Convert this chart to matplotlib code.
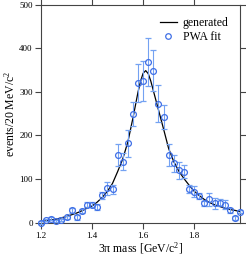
import matplotlib
matplotlib.use("Agg")
import matplotlib.pyplot as plt
from matplotlib.lines import Line2D

plt.rcParams['font.family'] = ['Liberation Serif', 'DejaVu Serif']
plt.rcParams['mathtext.fontset'] = 'custom'
plt.rcParams['mathtext.rm'] = 'Liberation Serif'
plt.rcParams['mathtext.it'] = 'Liberation Serif:italic'

# PWA fit points (20 MeV bins)
mass = [1.20, 1.22, 1.24, 1.26, 1.28, 1.30, 1.32, 1.34, 1.36, 1.38,
        1.40, 1.42, 1.44, 1.46, 1.48, 1.50, 1.52, 1.54, 1.56, 1.58,
        1.60, 1.62, 1.64, 1.66, 1.68, 1.70, 1.72, 1.74, 1.76, 1.78,
        1.80, 1.82, 1.84, 1.86, 1.88, 1.90, 1.92, 1.94, 1.96, 1.98]
events = [0, 6, 9, 4, 6, 12, 28, 12, 27, 41,
          41, 35, 63, 79, 76, 156, 140, 182, 249, 320,
          325, 368, 349, 273, 243, 155, 136, 120, 117, 77,
          71, 61, 44, 54, 44, 46, 41, 28, 10, 25]
errors = [3, 3, 3, 3, 3, 4, 5, 5, 5, 6,
          6, 7, 8, 15, 10, 25, 19, 31, 28, 44,
          46, 55, 47, 42, 28, 25, 20, 20, 15, 10,
          13, 8, 5, 15, 12, 8, 10, 5, 4, 4]

# generated distribution
gen_mass = [1.20, 1.22, 1.24, 1.26, 1.28, 1.30, 1.32, 1.34, 1.36, 1.38,
            1.40, 1.42, 1.44, 1.46, 1.48, 1.50, 1.52, 1.54, 1.56, 1.58,
            1.59, 1.60, 1.61, 1.62, 1.63, 1.64, 1.66, 1.68, 1.70, 1.72,
            1.74, 1.76, 1.78, 1.80, 1.82, 1.84, 1.86, 1.88, 1.90, 1.92,
            1.94, 1.96, 1.98]
gen_events = [2, 4, 6, 8, 11, 14, 18, 22, 27, 33,
              38, 47, 58, 72, 90, 117, 146, 185, 240, 300,
              325, 343, 349, 342, 325, 303, 259, 215, 170, 140,
              118, 101, 86, 72, 62, 53, 46, 41, 37, 33,
              30, 28, 25]

blue = '#3f6fe6'
ebar = '#74a2f2'

fig = plt.figure(figsize=(2.46, 2.57), dpi=100)
ax = fig.add_axes([0.167, 0.134, 0.809, 0.847])

ax.plot(gen_mass, gen_events, color='black', lw=0.9, zorder=3)
ax.errorbar(mass, events, yerr=errors, fmt='o', ms=4.2, mfc='none', mec=blue,
            mew=0.9, ecolor=ebar, elinewidth=0.8, capsize=2.2, capthick=0.8,
            zorder=4, clip_on=False)

ax.set_xlim(1.2, 1.98)
ax.set_ylim(0, 500)
ax.set_xticks([1.2, 1.4, 1.6, 1.8])
ax.set_xticklabels(['1.2', '1.4', '1.6', '1.8'])
ax.set_yticks([0, 100, 200, 300, 400, 500])
ax.tick_params(direction='out', top=True, right=True, length=4, width=0.8,
               labelsize=6.5, pad=2, color='#444444')
ax.tick_params(axis='x', pad=2.5)
for s in ax.spines.values():
    s.set_linewidth(0.8)
    s.set_color('#444444')

ax.set_xlabel('3\u03c0 mass [GeV/c$^{\\mathrm{2}}$]', fontsize=8.5, labelpad=0.5)
ax.set_ylabel('events/20 MeV/c$^{\\mathrm{2}}$', fontsize=8.5, labelpad=1)

handles = [Line2D([], [], color='black', lw=0.9),
           Line2D([], [], ls='none', marker='o', ms=4, mfc='none', mec=blue, mew=0.9)]
ax.legend(handles, ['generated', 'PWA fit'], loc='upper right', frameon=False,
          fontsize=8.5, handlelength=1.4, handletextpad=0.5, labelspacing=0.2,
          borderaxespad=0.6)

fig.savefig('out.png', dpi=100)
